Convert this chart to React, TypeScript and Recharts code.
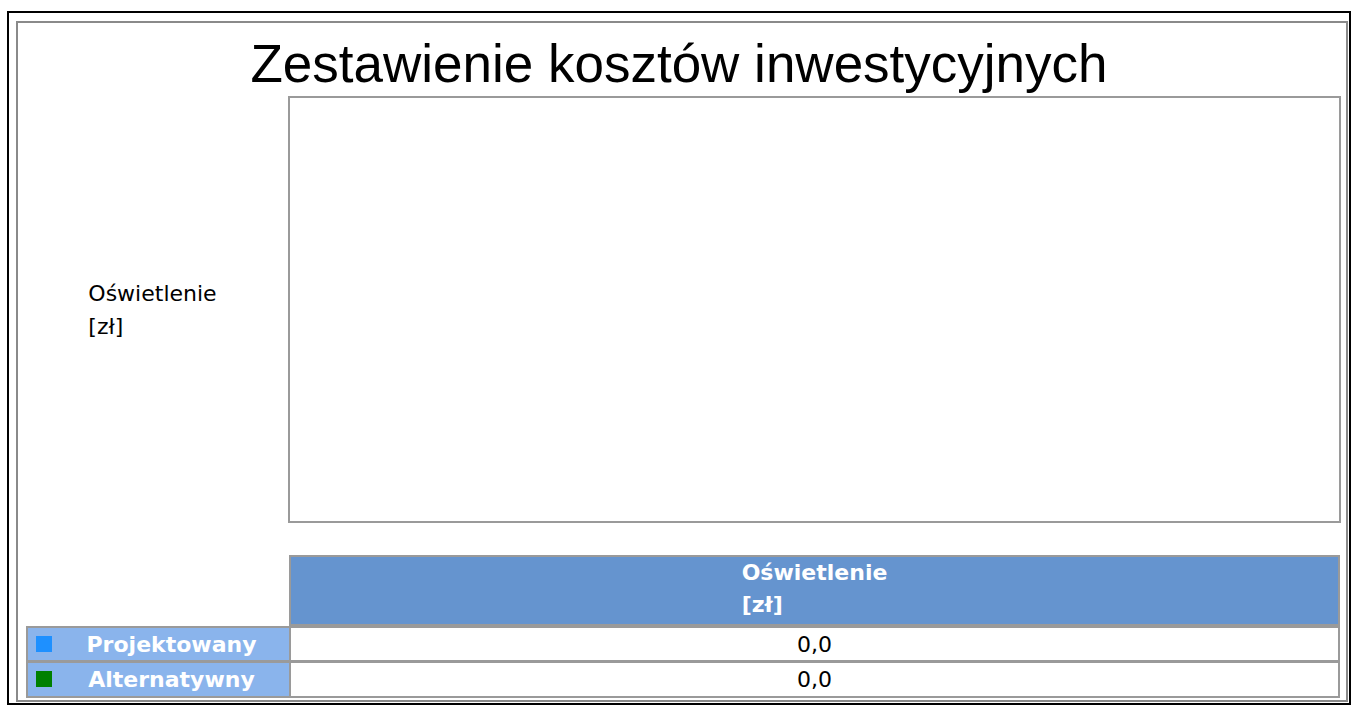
import React from "react";
import { Bar, BarChart, ReferenceArea, XAxis, YAxis } from "recharts";

const title = "Zestawienie kosztów inwestycyjnych";
const categories = ["Oświetlenie"];
const unit = "[zł]";
const seriesNames = ["Projektowany", "Alternatywny"];
const seriesColors = ["#1E90FF", "#008000"];
const projektowany = [0];
const alternatywny = [0];
const seriesValues = [projektowany, alternatywny];

const chartData = categories.map((name, i) => {
  const row: Record<string, any> = { name };
  seriesNames.forEach((s, k) => {
    row[s] = seriesValues[k][i];
  });
  return row;
});

const fmt = (v: number) => v.toFixed(1).replace(".", ",");

const FONT = "'DejaVu Sans', sans-serif";
const GRID = "#9a9a9a";
const HEAD_BG = "#6594CF";
const SIDE_BG = "#8AB4EC";

// plot area in page coordinates
const PLOT = { left: 289, top: 97, right: 1340, bottom: 522 };

export default function App() {
  const colW = PLOT.right - PLOT.left;
  return (
    <div
      style={{
        position: "absolute",
        left: 0,
        top: 0,
        width: 1358,
        height: 706,
        background: "#fff",
        fontFamily: FONT,
      }}
    >
      {/* outer frames */}
      <div
        style={{
          position: "absolute",
          left: 7,
          top: 11,
          width: 1344,
          height: 694,
          border: "2px solid #000",
          boxSizing: "border-box",
        }}
      />
      <div
        style={{
          position: "absolute",
          left: 16,
          top: 21,
          width: 1332,
          height: 681,
          border: "2px solid #8a8a8a",
          boxSizing: "border-box",
        }}
      />

      <div
        style={{
          position: "absolute",
          left: 0,
          top: 36,
          width: 1358,
          textAlign: "center",
          fontFamily: "'Liberation Sans', Arial, sans-serif",
          fontSize: 53,
          lineHeight: "56px",
          color: "#000",
        }}
      >
        {title}
      </div>

      <div style={{ position: "absolute", left: 0, top: 0 }}>
        <BarChart
          width={1358}
          height={706}
          data={chartData}
          margin={{
            top: PLOT.top,
            left: PLOT.left,
            right: 1358 - PLOT.right,
            bottom: 706 - PLOT.bottom,
          }}
        >
          <XAxis dataKey="name" hide />
          <YAxis hide domain={[0, 1]} />
          <ReferenceArea
            y1={0}
            y2={1}
            fill="#fff"
            fillOpacity={1}
            stroke={GRID}
            strokeWidth={2}
          />
          {seriesNames.map((s, k) => (
            <Bar
              key={s}
              dataKey={s}
              fill={seriesColors[k]}
              isAnimationActive={false}
            />
          ))}
        </BarChart>
      </div>

      {/* axis label */}
      <div
        style={{
          position: "absolute",
          left: 16,
          width: PLOT.left - 16,
          top: PLOT.top,
          height: PLOT.bottom - PLOT.top,
          display: "flex",
          alignItems: "center",
          justifyContent: "center",
        }}
      >
        <div style={{ fontSize: 22, lineHeight: "33px", textAlign: "left", color: "#000" }}>
          {categories[0]}
          <br />
          {unit}
        </div>
      </div>

      {/* data table */}
      <div
        style={{
          position: "absolute",
          left: PLOT.left,
          top: 555,
          width: colW,
          height: 71,
          background: HEAD_BG,
          border: `2px solid ${GRID}`,
          boxSizing: "border-box",
          textAlign: "center",
        }}
      >
        <div
          style={{
            display: "inline-block",
            textAlign: "left",
            color: "#fff",
            fontWeight: "bold",
            fontSize: 22,
            lineHeight: "32px",
          }}
        >
          {categories[0]}
          <br />
          {unit}
        </div>
      </div>

      {seriesNames.map((s, k) => {
        const top = 626 + k * 35;
        const h = k === 0 ? 36 : 37;
        return (
          <React.Fragment key={s}>
            <div
              style={{
                position: "absolute",
                left: 26,
                top,
                width: PLOT.left - 26 + 2,
                height: h,
                background: SIDE_BG,
                border: `2px solid ${GRID}`,
                boxSizing: "border-box",
              }}
            >
              <div
                style={{
                  position: "absolute",
                  left: 8,
                  top: 8,
                  width: 16,
                  height: 16,
                  background: seriesColors[k],
                }}
              />
              <div
                style={{
                  position: "absolute",
                  left: 26,
                  right: 0,
                  top: 0,
                  bottom: 0,
                  display: "flex",
                  alignItems: "center",
                  justifyContent: "center",
                  color: "#fff",
                  fontWeight: "bold",
                  fontSize: 22,
                }}
              >
                {s}
              </div>
            </div>
            <div
              style={{
                position: "absolute",
                left: PLOT.left,
                top,
                width: colW,
                height: h,
                background: "#fff",
                border: `2px solid ${GRID}`,
                boxSizing: "border-box",
                display: "flex",
                alignItems: "center",
                justifyContent: "center",
                fontSize: 22,
                color: "#000",
              }}
            >
              {fmt(seriesValues[k][0])}
            </div>
          </React.Fragment>
        );
      })}
    </div>
  );
}
